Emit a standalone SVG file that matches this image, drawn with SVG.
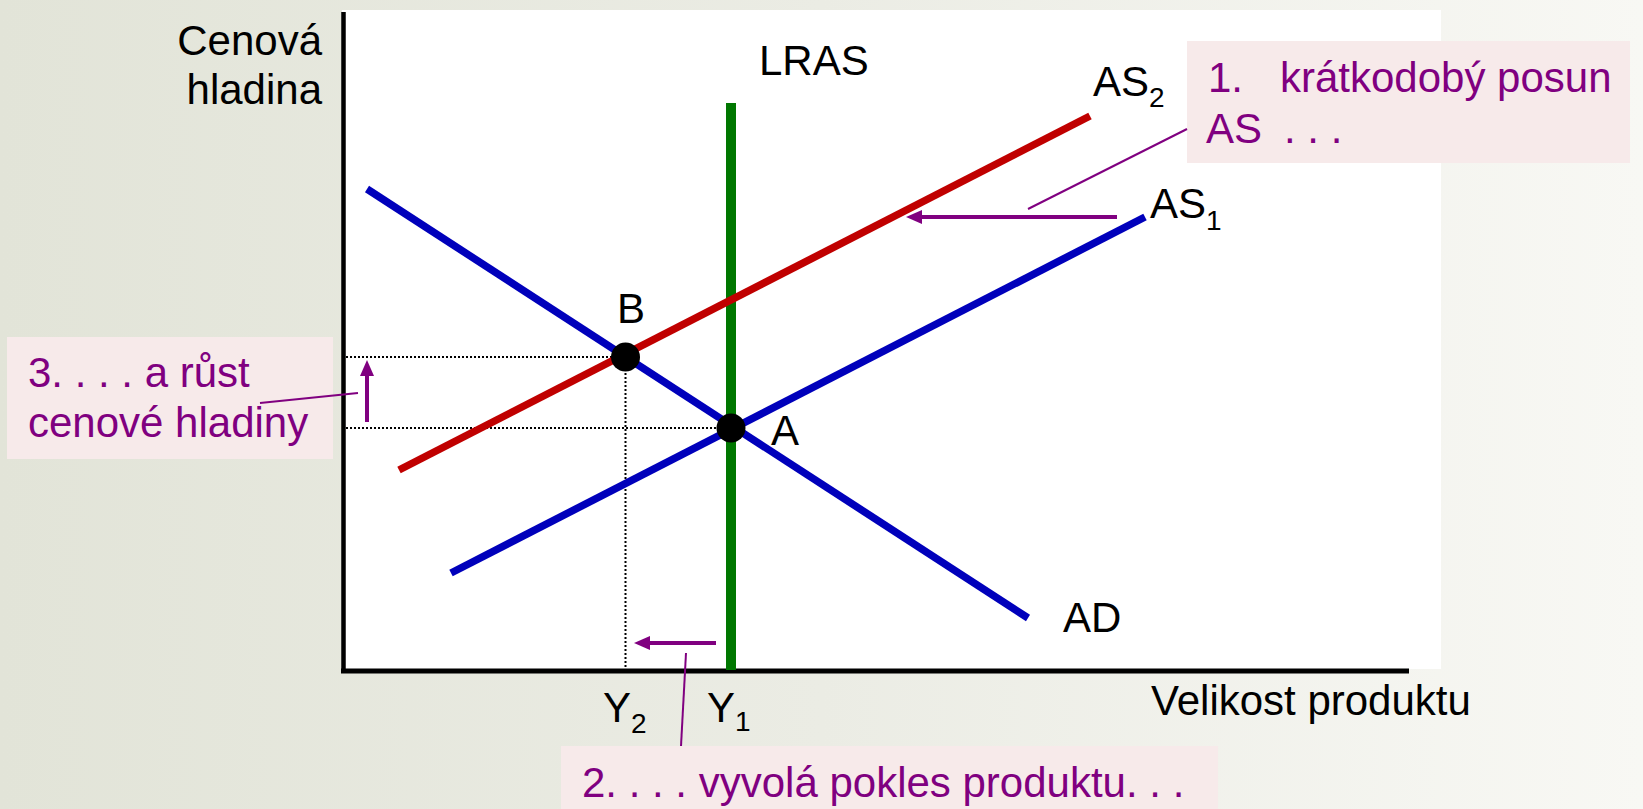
<svg xmlns="http://www.w3.org/2000/svg" width="1643" height="809" viewBox="0 0 1643 809">
  <defs>
    <linearGradient id="bg" x1="0" y1="0" x2="1" y2="0">
      <stop offset="0" stop-color="#e2e4d8"/>
      <stop offset="0.5" stop-color="#ebece4"/>
      <stop offset="1" stop-color="#f8f8f4"/>
    </linearGradient>
    <marker id="ah" viewBox="0 0 16 14" markerWidth="16" markerHeight="14" markerUnits="userSpaceOnUse" refX="1" refY="7" orient="auto">
      <path d="M0,0 L16,7 L0,14 z" fill="#800080"/>
    </marker>
    <style>
      text { font-family: "Liberation Sans", Arial, sans-serif; font-size: 42px; fill: #000; }
      .sub { font-size: 28px; }
      .note { fill: #800080; }
      .box { fill: #f7eaea; }
      .curve { fill: none; stroke-width: 7.5; stroke-linecap: butt; }
      .dot { fill: none; stroke: #000; stroke-width: 2; stroke-dasharray: 2 2; }
      .lead { fill: none; stroke: #800080; stroke-width: 2; }
      .arr { fill: none; stroke: #800080; stroke-width: 4; marker-end: url(#ah); }
    </style>
  </defs>

  <rect x="0" y="0" width="1643" height="809" fill="url(#bg)"/>
  <rect x="342" y="10" width="1099" height="659" fill="#ffffff"/>

  <g id="guides">
    <line class="dot" x1="346" y1="357" x2="625" y2="357"/>
    <line class="dot" x1="346" y1="428" x2="731" y2="428"/>
    <line class="dot" x1="625.5" y1="357" x2="625.5" y2="669"/>
  </g>

  <g id="axes">
    <line x1="343.5" y1="12" x2="343.5" y2="673" stroke="#000" stroke-width="4.5"/>
    <line x1="341" y1="671" x2="1409" y2="671" stroke="#000" stroke-width="5"/>
    <text id="y-title" text-anchor="end"><tspan x="322" y="55">Cenová</tspan><tspan x="322" y="104">hladina</tspan></text>
    <text id="x-title" x="1151" y="715">Velikost produktu</text>
    <text id="y2" x="603" y="722">Y<tspan class="sub" dy="11">2</tspan></text>
    <text id="y1" x="707" y="722">Y<tspan class="sub" dy="9">1</tspan></text>
  </g>

  <g id="lras">
    <line x1="731" y1="103" x2="731" y2="670" stroke="#007700" stroke-width="10"/>
    <text x="759" y="75">LRAS</text>
  </g>
  <g id="ad">
    <line class="curve" stroke="#0000bb" x1="367" y1="189" x2="1028" y2="618"/>
    <text x="1063" y="632">AD</text>
  </g>
  <g id="as1">
    <line class="curve" stroke="#0000bb" x1="451" y1="573" x2="1145" y2="217"/>
    <text x="1150" y="218">AS<tspan class="sub" dy="12">1</tspan></text>
  </g>
  <g id="as2">
    <line class="curve" stroke="#c00000" x1="399" y1="470" x2="1090" y2="116"/>
    <text x="1093" y="96">AS<tspan class="sub" dy="11">2</tspan></text>
  </g>

  <g id="point-b">
    <circle cx="625.5" cy="357" r="14.5" fill="#000"/>
    <text x="617" y="323">B</text>
  </g>
  <g id="point-a">
    <circle cx="731" cy="428" r="14.5" fill="#000"/>
    <text x="771" y="445">A</text>
  </g>

  <g id="note-1">
    <rect class="box" x="1187" y="41" width="443" height="122"/>
    <text class="note"><tspan x="1208" y="92">1.</tspan><tspan x="1280" y="92">krátkodobý posun</tspan><tspan x="1206" y="143">AS</tspan><tspan x="1284" y="143">. . .</tspan></text>
  </g>
  <g id="note-2">
    <rect class="box" x="561" y="746" width="657" height="63"/>
    <text class="note" x="582" y="797">2. . . . vyvolá pokles produktu. . .</text>
  </g>
  <g id="note-3">
    <rect class="box" x="7" y="337" width="326" height="122"/>
    <text class="note"><tspan x="28" y="387">3. . . . a růst</tspan><tspan x="28" y="437">cenové hladiny</tspan></text>
  </g>

  <g id="connectors">
    <line class="arr" x1="1117" y1="217" x2="921" y2="217"/>
    <line class="arr" x1="716" y1="643" x2="649" y2="643"/>
    <line class="arr" x1="367" y1="422" x2="367" y2="375"/>
    <line class="lead" x1="1187" y1="129" x2="1028" y2="209"/>
    <line class="lead" x1="686" y1="653" x2="681" y2="746"/>
    <line class="lead" x1="260" y1="403" x2="358" y2="393"/>
  </g>
</svg>
